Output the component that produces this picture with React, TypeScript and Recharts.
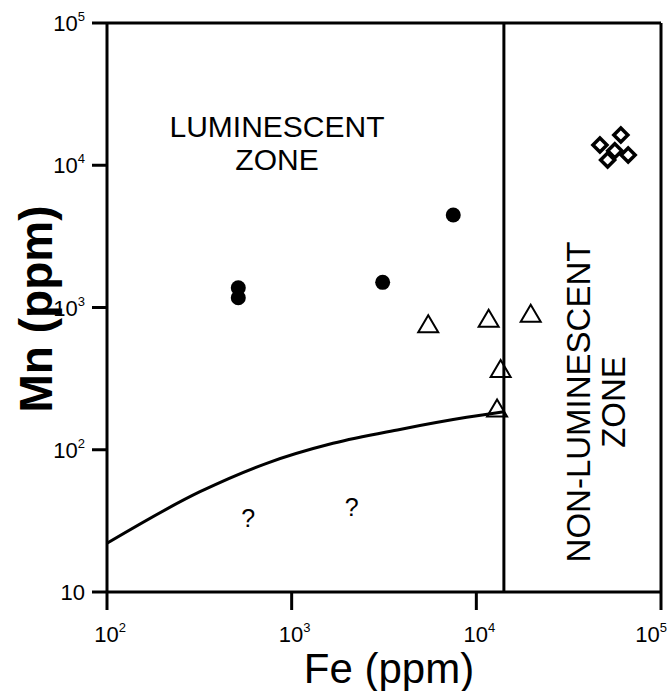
import { ComposedChart, XAxis, YAxis, Line, Scatter, ReferenceLine, Customized } from "recharts";

// boundary curve (Fe, Mn)
const curveFe = [100, 319, 732, 1674, 3857, 8870, 14100];
const curveMn = [22, 50.7, 80.3, 111, 139, 169, 185];

// filled circles
const circleFe = [514, 514, 3110, 7500];
const circleMn = [1377, 1172, 1503, 4470];

// open triangles
const triFe = [5490, 11660, 19700, 13540, 12950];
const triMn = [762, 834, 904, 370, 195];

// open diamonds
const diaFe = [46700, 60600, 56200, 51400, 66400];
const diaMn = [13870, 16320, 12650, 10890, 11800];

// question marks
const qFe = [582, 2113];
const qMn = [33, 39.8];

const boundaryFe = 14100;
const xTicks = [100, 1000, 10000, 100000];
const yTicks = [10, 100, 1000, 10000, 100000];

const zip = (fe: number[], mn: number[]) => fe.map((f, i) => ({ fe: f, mn: mn[i] }));
const curve = zip(curveFe, curveMn);
const circles = zip(circleFe, circleMn);
const triangles = zip(triFe, triMn);
const diamonds = zip(diaFe, diaMn);
const unknowns = zip(qFe, qMn);

const FONT = "'Liberation Sans', Arial, sans-serif";

function powLabel(v: number) {
  const e = Math.round(Math.log10(v));
  return e === 1 ? { base: "10", exp: "" } : { base: "10", exp: String(e) };
}

const renderXTick = (props: any) => {
  const { x, y, payload } = props;
  const { base, exp } = powLabel(payload.value);
  return (
    <text x={x + 3} y={y + 32} textAnchor="middle" style={{ fontFamily: FONT, fontSize: 22 }} fill="#000">
      <tspan>{base}</tspan>
      {exp && <tspan dy={-10} style={{ fontSize: 13 }}>{exp}</tspan>}
    </text>
  );
};

const renderYTick = (props: any) => {
  const { x, y, payload } = props;
  const { base, exp } = powLabel(payload.value);
  return (
    <text x={x - 7} y={y + 8} textAnchor="end" style={{ fontFamily: FONT, fontSize: 22 }} fill="#000">
      <tspan>{base}</tspan>
      {exp && <tspan dy={-10} style={{ fontSize: 13 }}>{exp}</tspan>}
    </text>
  );
};

const Dot = (p: any) => <circle cx={p.cx} cy={p.cy} r={7.5} fill="#000" />;
const Tri = (p: any) => (
  <polygon
    points={`${p.cx},${p.cy - 9} ${p.cx + 10},${p.cy + 8} ${p.cx - 10},${p.cy + 8}`}
    fill="none"
    stroke="#000"
    strokeWidth={2}
  />
);
const Dia = (p: any) => (
  <polygon
    points={`${p.cx},${p.cy - 7} ${p.cx + 7},${p.cy} ${p.cx},${p.cy + 7} ${p.cx - 7},${p.cy}`}
    fill="#fff"
    stroke="#000"
    strokeWidth={3.5}
  />
);
const Q = (p: any) => (
  <text x={p.cx} y={p.cy + 9} textAnchor="middle" style={{ fontFamily: FONT, fontSize: 25 }} fill="#000">
    ?
  </text>
);

const Annotations = () => (
  <g style={{ fontFamily: FONT }} fill="#000">
    <text x={277} y={137} textAnchor="middle" style={{ fontSize: 30 }}>LUMINESCENT</text>
    <text x={277} y={170} textAnchor="middle" style={{ fontSize: 30 }}>ZONE</text>
    <text x={590} y={402} textAnchor="middle" style={{ fontSize: 33 }} transform="rotate(-90 590 402)">
      NON-LUMINESCENT
    </text>
    <text x={625} y={402} textAnchor="middle" style={{ fontSize: 33 }} transform="rotate(-90 625 402)">
      ZONE
    </text>
    <text x={52} y={309} textAnchor="middle" style={{ fontSize: 46, fontWeight: "bold" }} transform="rotate(-90 52 309)">
      Mn (ppm)
    </text>
    <text x={389} y={683} textAnchor="middle" style={{ fontSize: 42 }}>Fe (ppm)</text>
  </g>
);

export default function App() {
  const axisStroke = { stroke: "#000", strokeWidth: 3 };
  return (
    <div style={{ position: "absolute", left: 0, top: 0, background: "#fff" }}>
      <ComposedChart width={672} height={691} margin={{ top: 23, right: 11, left: 0, bottom: 0 }}>
        <XAxis
          dataKey="fe"
          type="number"
          scale="log"
          domain={[100, 100000]}
          ticks={xTicks}
          allowDataOverflow
          height={99}
          tickSize={18}
          tickMargin={0}
          axisLine={axisStroke}
          tickLine={axisStroke}
          tick={renderXTick}
        />
        <YAxis
          dataKey="mn"
          type="number"
          scale="log"
          domain={[10, 100000]}
          ticks={yTicks}
          allowDataOverflow
          width={107}
          tickSize={15}
          tickMargin={0}
          axisLine={axisStroke}
          tickLine={axisStroke}
          tick={renderYTick}
        />
        <ReferenceLine y={100000} stroke="#000" strokeWidth={3} />
        <ReferenceLine x={100000} stroke="#000" strokeWidth={3} />
        <ReferenceLine x={boundaryFe} stroke="#000" strokeWidth={3} />
        <Line
          data={curve}
          dataKey="mn"
          type="monotone"
          stroke="#000"
          strokeWidth={3}
          dot={false}
          isAnimationActive={false}
        />
        <Scatter data={circles} shape={Dot} isAnimationActive={false} />
        <Scatter data={triangles} shape={Tri} isAnimationActive={false} />
        <Scatter data={diamonds} shape={Dia} isAnimationActive={false} />
        <Scatter data={unknowns} shape={Q} isAnimationActive={false} />
        <Customized component={Annotations} />
      </ComposedChart>
    </div>
  );
}
